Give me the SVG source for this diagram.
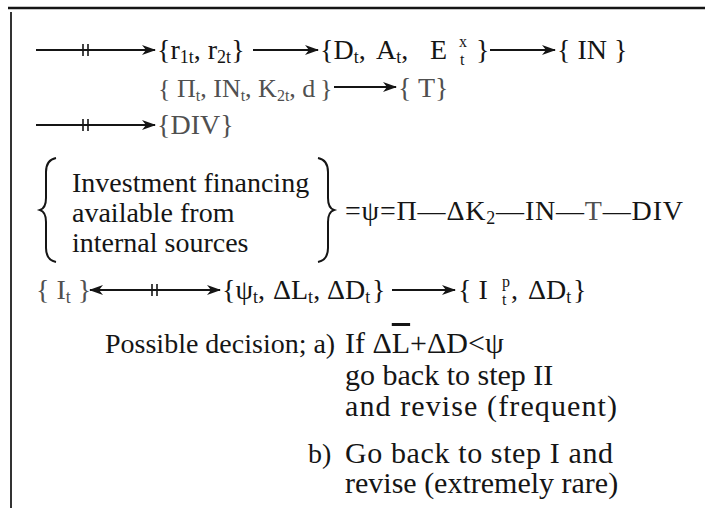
<svg xmlns="http://www.w3.org/2000/svg" width="705" height="508" viewBox="0 0 705 508">
<style>
.t{font-family:"Liberation Serif","DejaVu Serif","Times New Roman",serif;font-size:28px;fill:#151515}
.d{font-size:30px}
.g{fill:#505050}
.s{font-size:18px}
.ss{font-size:16px}
.r2{font-size:26px}
.ln{stroke:#151515;stroke-width:1.8;fill:none}
.bar{stroke:#151515;stroke-width:1.6}
.br{stroke:#151515;stroke-width:2;fill:none}
.ov{text-decoration:overline;text-decoration-thickness:1.5px}
</style>
<defs>
<marker id="ah" viewBox="0 0 14 10" refX="13" refY="5" markerWidth="14" markerHeight="10" markerUnits="userSpaceOnUse" orient="auto-start-reverse"><path d="M0,0 L14,5 L0,10 L4,5 z" fill="#151515"/></marker>
</defs>
<rect width="705" height="508" fill="#fff"/>
<g id="frame">
<line x1="8" y1="8" x2="705" y2="8" stroke="#151515" stroke-width="2.5"/>
<line x1="11" y1="12" x2="11" y2="508" stroke="#333" stroke-width="2"/>
</g>
<g id="connectors">
<line class="ln" x1="36" y1="50" x2="155" y2="50" marker-end="url(#ah)"/>
<line class="bar" x1="83" y1="44" x2="83" y2="56"/><line class="bar" x1="88" y1="44" x2="88" y2="56"/>
<line class="ln" x1="253" y1="50" x2="318" y2="50" marker-end="url(#ah)"/>
<line class="ln" x1="490" y1="50" x2="555" y2="50" marker-end="url(#ah)"/>
<line class="ln" x1="334" y1="87" x2="396" y2="87" marker-end="url(#ah)"/>
<line class="ln" x1="36" y1="125" x2="155" y2="125" marker-end="url(#ah)"/>
<line class="bar" x1="83" y1="119" x2="83" y2="131"/><line class="bar" x1="88" y1="119" x2="88" y2="131"/>
<line class="ln" x1="90" y1="290" x2="220" y2="290" marker-start="url(#ah)" marker-end="url(#ah)"/>
<line class="bar" x1="152" y1="284" x2="152" y2="296"/><line class="bar" x1="157" y1="284" x2="157" y2="296"/>
<line class="ln" x1="392" y1="290" x2="455" y2="290" marker-end="url(#ah)"/>
</g>
<g id="n-r"><text class="t" x="157" y="59">{r<tspan class="s" dy="4">1t</tspan><tspan dy="-4">,  r</tspan><tspan class="s" dy="4">2t</tspan><tspan dy="-4">}</tspan></text></g>
<g id="n-dae"><text class="t" x="320" y="59">{D<tspan class="s" dy="4">t</tspan><tspan dy="-4">,</tspan><tspan x="376">A</tspan><tspan class="s" dy="4">t</tspan><tspan dy="-4">,</tspan><tspan x="430">E</tspan><tspan class="ss" x="459" dy="-12">x</tspan><tspan class="ss" x="460" dy="18">t</tspan><tspan x="476" dy="-6">}</tspan></text></g>
<g id="n-in"><text class="t" x="557" y="59">{ IN }</text></g>
<g id="n-pi"><text class="t g r2" x="158" y="97">{ Π<tspan class="ss" dy="4">t</tspan><tspan dy="-4">, IN</tspan><tspan class="ss" dy="4">t</tspan><tspan dy="-4">, K</tspan><tspan class="ss" dy="4">2t</tspan><tspan dy="-4">, d</tspan><tspan x="320">}</tspan></text></g>
<g id="n-t"><text class="t g" x="398" y="97">{ T}</text></g>
<g id="n-div"><text class="t g" x="157" y="134">{DIV}</text></g>
<g id="n-fin">
<path class="br" d="M56,158 Q46,160 46,172 L46,198 Q46,208 40,210 Q46,212 46,222 L46,248 Q46,260 56,262"/>
<path class="br" d="M318,158 Q328,160 328,172 L328,198 Q328,208 334,210 Q328,212 328,222 L328,248 Q328,260 318,262"/>
<text class="t" x="72" y="192">Investment financing</text>
<text class="t" x="72" y="222">available from</text>
<text class="t" x="72" y="252">internal sources</text>
</g>
<g id="n-eq"><text class="t" x="345" y="220" textLength="338" lengthAdjust="spacing">=ψ=Π—ΔK<tspan class="s" dy="4">2</tspan><tspan dy="-4">—IN—</tspan><tspan class="g">T</tspan><tspan>—DIV</tspan></text></g>
<g id="n-it"><text class="t g" x="36" y="299">{ I<tspan class="s" dy="4">t</tspan><tspan dy="-4"> }</tspan></text></g>
<g id="n-psi"><text class="t" x="222" y="299">{ψ<tspan class="s" dy="4">t</tspan><tspan dy="-4">,</tspan><tspan x="273">ΔL</tspan><tspan class="s" dy="4">t</tspan><tspan dy="-4">,</tspan><tspan x="327">ΔD</tspan><tspan class="s" dy="4">t</tspan><tspan x="372" dy="-4">}</tspan></text></g>
<g id="n-ip"><text class="t" x="458" y="299">{ I<tspan class="ss" x="502" dy="-12">p</tspan><tspan class="ss" x="502" dy="18">t</tspan><tspan x="511" dy="-6">,</tspan><tspan x="528">ΔD</tspan><tspan class="s" dy="4">t</tspan><tspan x="573" dy="-4">}</tspan></text></g>
<g id="decision">
<text class="t" x="105" y="353">Possible decision; a)</text>
<text class="t d" x="345" y="353">If Δ<tspan class="ov">L</tspan>+ΔD&lt;ψ</text>
<text class="t d" x="345" y="385">go back to step II</text>
<text class="t d" x="345" y="416" textLength="272" lengthAdjust="spacing">and  revise (frequent)</text>
<text class="t" x="308" y="463">b)</text>
<text class="t d" x="345" y="463" textLength="268" lengthAdjust="spacing">Go back to step I and</text>
<text class="t d" x="345" y="493">revise (extremely rare)</text>
</g>
</svg>
